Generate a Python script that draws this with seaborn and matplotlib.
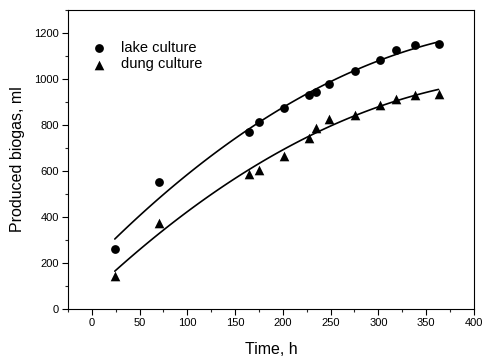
import numpy as np
import pandas as pd
import matplotlib
matplotlib.use("Agg")
import matplotlib.pyplot as plt
from matplotlib.ticker import MultipleLocator
import seaborn as sns

# Time points (h) and produced biogas (ml)
lake_time = [24, 70, 165, 175, 201, 227, 235, 248, 276, 302, 318, 338, 363]
lake_gas = [261, 550, 771, 814, 872, 932, 943, 979, 1033, 1084, 1124, 1147, 1150]

dung_time = [24, 70, 165, 175, 201, 227, 235, 248, 276, 302, 318, 338, 363]
dung_gas = [145, 374, 585, 606, 667, 745, 785, 826, 843, 887, 914, 932, 935]

lake = pd.DataFrame({"Time": lake_time, "Gas": lake_gas})
dung = pd.DataFrame({"Time": dung_time, "Gas": dung_gas})

sns.set_theme(style="ticks")
plt.rcParams["font.family"] = ["Liberation Sans", "DejaVu Sans"]
plt.rcParams["text.color"] = "black"
plt.rcParams["axes.labelcolor"] = "black"

fig = plt.figure(figsize=(4.84, 3.56), dpi=100)
ax = fig.add_axes([0.1405, 0.132, 0.8385, 0.84])

# data points
sns.scatterplot(data=lake, x="Time", y="Gas", marker="o", color="black",
                s=40, edgecolor="black", linewidth=0, ax=ax, label="lake culture")
sns.scatterplot(data=dung, x="Time", y="Gas", marker="^", color="black",
                s=48, edgecolor="black", linewidth=0, ax=ax, label="dung culture")

# fitted curves
sns.regplot(data=lake, x="Time", y="Gas", order=2, ci=None, scatter=False,
            truncate=True, color="black", line_kws={"linewidth": 1.2}, ax=ax)
sns.regplot(data=dung, x="Time", y="Gas", order=2, ci=None, scatter=False,
            truncate=True, color="black", line_kws={"linewidth": 1.2}, ax=ax)

ax.set_xlim(-25, 400)
ax.set_ylim(0, 1300)
ax.xaxis.set_major_locator(MultipleLocator(50))
ax.xaxis.set_minor_locator(MultipleLocator(25))
ax.yaxis.set_major_locator(MultipleLocator(200))
ax.yaxis.set_minor_locator(MultipleLocator(100))
ax.set_yticks(np.arange(0, 1201, 200))
ax.tick_params(which="major", direction="out", length=4, width=0.8,
               labelsize=8, colors="black", pad=2.5)
ax.tick_params(which="minor", direction="out", length=2, width=0.8)
for sp in ax.spines.values():
    sp.set_visible(True)
    sp.set_linewidth(0.8)
    sp.set_color("black")

ax.set_xlabel("Time, h", fontsize=11.5, labelpad=10)
ax.set_ylabel("Produced biogas, ml", fontsize=11.5, labelpad=7)

ax.legend(loc="upper left", bbox_to_anchor=(0.027, 0.915), frameon=False,
          fontsize=10.5, handletextpad=0.5, labelspacing=0.15, borderaxespad=0)

fig.savefig("out.png", dpi=100)
